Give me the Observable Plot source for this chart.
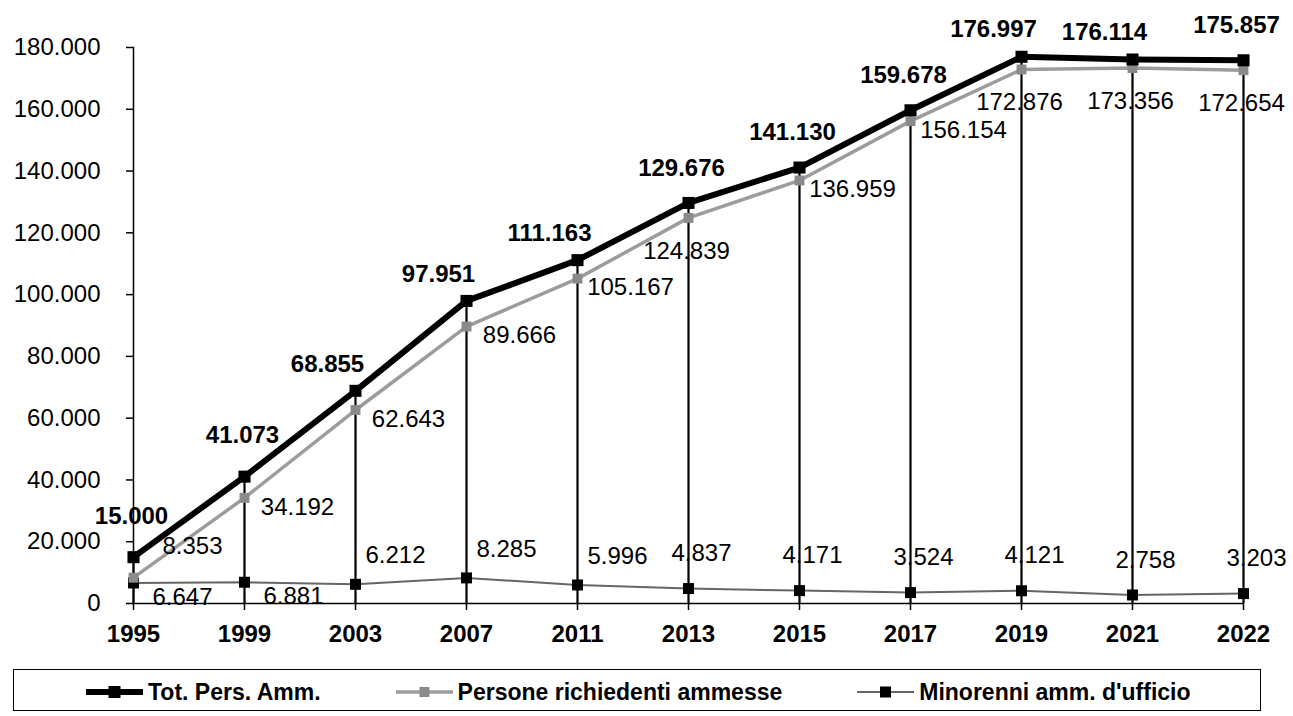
<!DOCTYPE html>
<html>
<head>
<meta charset="utf-8">
<script src="https://cdn.jsdelivr.net/npm/d3@7"></script>
<script src="https://cdn.jsdelivr.net/npm/@observablehq/plot@0.6"></script>
<style>
  html, body { margin: 0; padding: 0; background: #fff; }
  body { width: 1293px; height: 716px; overflow: hidden; font-family: "Liberation Sans", Arial, sans-serif; }
  #chart svg { display: block; font-family: "Liberation Sans", Arial, sans-serif; }
  #legend {
    position: absolute; left: 13px; top: 669px; width: 1248px; height: 42px;
    border: 1.5px solid #000; box-sizing: border-box;
    display: flex; align-items: center; padding-left: 72px; padding-top: 4px; gap: 0;
    font: bold 23px "Liberation Sans", Arial, sans-serif; color: #000;
  }
  #legend .item { display: flex; align-items: center; }
  #legend .item svg { margin-right: 5px; }
</style>
</head>
<body>
<div id="chart"></div>
<div id="legend"></div>
<script>
// ---- data ----
const years = [1995, 1999, 2003, 2007, 2011, 2013, 2015, 2017, 2019, 2021, 2022];
const totale = [15000, 41073, 68855, 97951, 111163, 129676, 141130, 159678, 176997, 176114, 175857];
const richiedenti = [8353, 34192, 62643, 89666, 105167, 124839, 136959, 156154, 172876, 173356, 172654];
const minorenni = [6647, 6881, 6212, 8285, 5996, 4837, 4171, 3524, 4121, 2758, 3203];
const yTicks = [0, 20000, 40000, 60000, 80000, 100000, 120000, 140000, 160000, 180000];
const seriesNames = ["Tot. Pers. Amm.", "Persone richiedenti ammesse", "Minorenni amm. d'ufficio"];

const locale = d3.formatLocale({decimal: ",", thousands: ".", grouping: [3], currency: ["€", ""]});
const fmt = locale.format(",d");

const data = years.map((y, i) => ({year: String(y), tot: totale[i], ric: richiedenti[i], min: minorenni[i]}));
const pick = (ys) => data.filter(d => ys.includes(+d.year));

const FONT = 24;
function labels(rows, key, dx, dy, weight) {
  return Plot.text(rows, {
    x: "year", y: key, text: d => fmt(d[key]), dx, dy,
    fontSize: FONT, fontWeight: weight || "normal", fill: "#000"
  });
}

const chart = Plot.plot({
  width: 1293,
  height: 660,
  marginLeft: 133,
  marginRight: 50,
  marginTop: 47,
  marginBottom: 57,
  style: {fontFamily: "Liberation Sans, Arial, sans-serif", background: "#fff", color: "#000"},
  x: {type: "point", domain: years.map(String), padding: 0},
  y: {domain: [0, 180000]},
  marks: [
    Plot.axisY({ticks: yTicks, tickSize: 7, tickPadding: 26, tickFormat: fmt, fontSize: FONT, label: null, stroke: "#000", strokeWidth: 1.5}),
    Plot.axisX({tickSize: 7, tickPadding: 14, fontSize: FONT, fontWeight: "bold", label: null, stroke: "#000", strokeWidth: 1.5}),
    Plot.frame({anchor: "left", stroke: "#000", strokeWidth: 1.5}),
    Plot.frame({anchor: "bottom", stroke: "#000", strokeWidth: 1.5}),
    // drop lines
    Plot.ruleX(data, {x: "year", y1: 0, y2: "tot", stroke: "#000", strokeWidth: 2.2}),
    // Minorenni
    Plot.line(data, {x: "year", y: "min", stroke: "#666", strokeWidth: 2}),
    Plot.dot(data, {x: "year", y: "min", symbol: "square", r: 6.2, fill: "#000", stroke: "none"}),
    // Persone richiedenti
    Plot.line(data, {x: "year", y: "ric", stroke: "#9c9c9c", strokeWidth: 3.5}),
    Plot.dot(data, {x: "year", y: "ric", symbol: "square", r: 5.6, fill: "#8a8a8a", stroke: "none"}),
    // Totale
    Plot.line(data, {x: "year", y: "tot", stroke: "#000", strokeWidth: 6}),
    Plot.dot(data, {x: "year", y: "tot", symbol: "square", r: 6.8, fill: "#000", stroke: "none"}),
    // labels
    labels(pick([1995, 1999]), "tot", -2, -41, "bold"),
    labels(pick([2003, 2007, 2011, 2019, 2021]), "tot", -28, -27, "bold"),
    labels(pick([2013, 2015, 2017, 2022]), "tot", -7, -35, "bold"),
    labels(pick([1995]), "ric", 59, -31),
    labels(pick([1999, 2003, 2007, 2011, 2015, 2017]), "ric", 53, 9),
    labels(pick([2013, 2019, 2021, 2022]), "ric", -2, 33),
    labels(pick([1995, 1999]), "min", 49, 14),
    labels(pick([2003, 2007, 2011]), "min", 40, -29),
    labels(pick([2013, 2015, 2017, 2019, 2021, 2022]), "min", 13, -35)
  ]
});
document.getElementById("chart").appendChild(chart);

// ---- legend ----
const swatchStyles = [
  {stroke: "#000", width: 6, fill: "#000", size: 12},
  {stroke: "#9c9c9c", width: 3.5, fill: "#8a8a8a", size: 10},
  {stroke: "#666", width: 2, fill: "#000", size: 11}
];
const legend = d3.select("#legend");
seriesNames.forEach((name, i) => {
  const s = swatchStyles[i];
  const item = legend.append("div").attr("class", "item").style("margin-right", i < 2 ? "75px" : "0");
  const sv = item.append("svg").attr("width", 57).attr("height", 16);
  sv.append("line").attr("x1", 0).attr("x2", 57).attr("y1", 8).attr("y2", 8)
    .attr("stroke", s.stroke).attr("stroke-width", s.width);
  sv.append("rect").attr("x", 28.5 - s.size / 2).attr("y", 8 - s.size / 2)
    .attr("width", s.size).attr("height", s.size).attr("fill", s.fill);
  item.append("span").text(name);
});
</script>
</body>
</html>
